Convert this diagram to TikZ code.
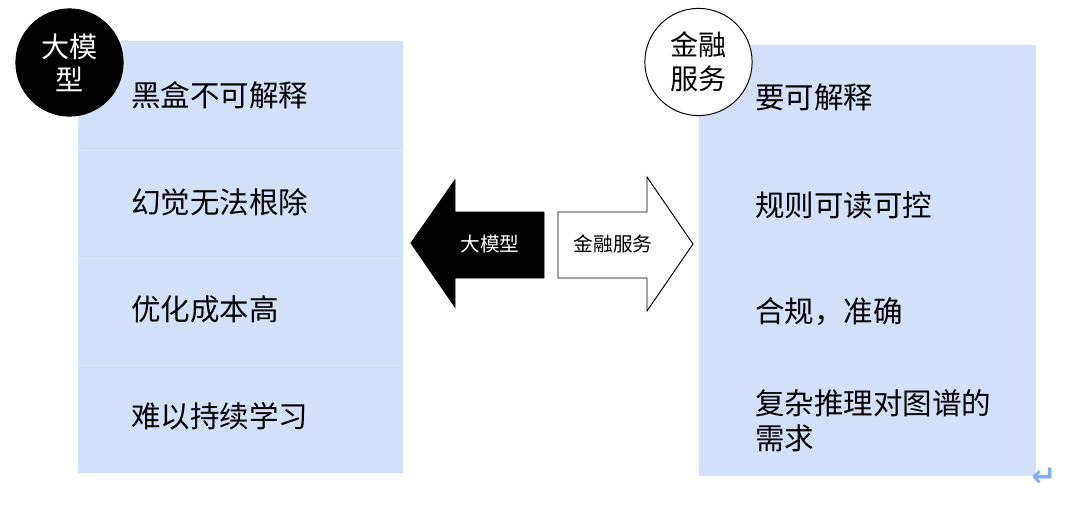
\documentclass[tikz,border=0pt]{standalone}
\usepackage{fontspec}
\newfontfamily\cjk{Noto Sans CJK SC}
\newfontfamily\simboli{DejaVu Sans}
\definecolor{azzurro}{HTML}{D3E0F9}
\definecolor{riga}{HTML}{DCE7FB}
\definecolor{invio}{HTML}{7FB0F0}

\begin{document}
\begin{tikzpicture}[x=0.025cm, y=-0.025cm, font=\cjk,
  voce/.style={anchor=west, inner sep=0pt, align=left,
    font=\cjk\fontsize{21}{25}\selectfont},
  tondo/.style={circle, draw, line width=0.7pt, minimum size=2.68cm,
    inner sep=0pt, align=center, font=\cjk\fontsize{20}{24}\selectfont},
  freccia/.style={draw, line width=0.7pt, line join=miter}]
  % Cornice della figura
  \useasboundingbox (0,0) rectangle (1080,508);

  % Riquadro di sinistra (limiti del modello)
  \fill[azzurro] (78,41) rectangle (403,473);
  \foreach \y in {150,258,365}
    \draw[riga, line width=0.6pt] (78,\y) -- (403,\y);

  % Riquadro di destra (esigenze del settore)
  \fill[azzurro] (699,45) rectangle (1036,476);

  % Voci di sinistra
  \node[voce] (nero)  at (131,95)  {黑盒不可解释};
  \node[voce] (alluc) at (131,202) {幻觉无法根除};
  \node[voce] (costo) at (131,309) {优化成本高};
  \node[voce] (appr)  at (131,416) {难以持续学习};

  % Voci di destra
  \node[voce] (spieg) at (755,97)  {要可解释};
  \node[voce] (regole) at (755,205) {规则可读可控};
  \node[voce] (conf)  at (755,312) {合规，准确};
  \node[voce] (grafo) at (755,421) {复杂推理对图谱的\\需求};

  % Cerchi dei titoli
  \node[tondo, fill=black, text=white,
    font=\cjk\fontsize{20}{23.4}\selectfont] (modello) at (69.5,62.5) {大模\\型};
  \node[tondo, fill=white] (finanza) at (698.5,62) {金融\\服务};

  % Freccia nera verso sinistra
  \draw[freccia, fill=black] (411,243) -- (455,180) -- (455,212) -- (544,212)
    -- (544,278) -- (455,278) -- (455,307) -- cycle;
  \node[text=white, font=\cjk\fontsize{14}{16}\selectfont] (fsx) at (490,244) {大模型};

  % Freccia bianca verso destra
  \draw[freccia, fill=white] (558,212) -- (647,212) -- (647,177) -- (693,244)
    -- (647,311) -- (647,278) -- (558,278) -- cycle;
  \node[font=\cjk\fontsize{14}{16}\selectfont] (fdx) at (613,244) {金融服务};

  % Segno di fine paragrafo
  \node[text=invio, inner sep=0pt, font=\simboli\bfseries\fontsize{21}{24}\selectfont]
    (invio) at (1044,477) {↵};
\end{tikzpicture}
\end{document}
